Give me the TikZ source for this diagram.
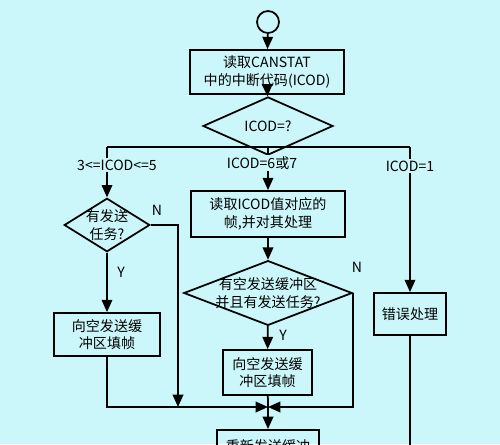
\documentclass[tikz,border=0pt]{standalone}
\usepackage{fontspec}
\setmainfont{Noto Sans CJK SC}
\usetikzlibrary{arrows.meta}
\usetikzlibrary{shapes.geometric}
\definecolor{bgcyan}{RGB}{204,247,250}

\tikzset{
  box/.style={draw, line width=1pt, align=center, inner sep=0pt},
  choice/.style={draw, diamond, line width=1pt, align=center, inner sep=0pt},
  lbl/.style={fill=bgcyan, inner sep=1pt},
  wire/.style={line width=1pt},
  flow/.style={line width=1pt, -{Triangle[length=7pt,width=6pt]}},
}

\begin{document}
\begin{tikzpicture}[x=0.02cm, y=-0.02cm, font=\fontsize{8}{10}\selectfont]
            % Fix the frame and paint the background
            \useasboundingbox (0,0) rectangle (500,444);
            \clip (0,0) rectangle (500,444);
            \fill[bgcyan] (0,0) rectangle (500,444);

            % Column and row positions (pixels of the original)
            \def\xl{107}  % left branch
            \def\xm{268}  % middle branch
            \def\xn{178}  % left N return
            \def\xs{352}  % middle N return
            \def\xr{410}  % right branch
            \def\ys{147}  % split line
            \def\yj{407}  % join line

            % Split and join points
            \coordinate (split) at (\xm, \ys);
            \coordinate (splitL) at (\xl, \ys);
            \coordinate (splitR) at (\xr, \ys);
            \coordinate (joinN) at (\xn, \yj);
            \coordinate (joinM) at (\xm, \yj);
            \coordinate (errEnd) at (\xr, 460);

            % Draw the blocks
            \node[draw, circle, line width=1pt, minimum size=0.44cm, inner sep=0pt] (start) at (\xm, 22) {};
            \node[box, minimum width=3.08cm, minimum height=0.88cm] (read) at (267, 72) {读取CANSTAT\\中的中断代码(ICOD)};
            \node[choice, minimum width=2.6cm, minimum height=0.5cm] (icod) at (\xm, 126) {ICOD=?};

            \node[choice, shape aspect=1.6, inner sep=-0.6pt] (task) at (\xl, 225) {有发送\\任务?};
            \node[box, minimum width=2.12cm, minimum height=0.86cm] (fillL) at (\xl, 334.5) {向空发送缓\\冲区填帧};

            \node[box, minimum width=3.08cm, minimum height=0.92cm] (readICOD) at (\xm, 214) {读取ICOD值对应的\\帧,并对其处理};
            \node[choice, shape aspect=2.6, inner sep=-1.3pt] (free) at (\xm, 293) {有空发送缓冲区\\并且有发送任务?};
            \node[box, minimum width=1.78cm, minimum height=0.9cm] (fillM) at (267.5, 372.5) {向空发送缓\\冲区填帧};
            \node[box, minimum width=2.04cm, inner ysep=0.2cm, anchor=north] (resend) at (\xm, 429) {重新发送缓冲};

            \node[box, minimum width=1.44cm, minimum height=0.84cm] (err) at (\xr, 314) {错误处理};

            % Draw the connectors
            \draw[flow] (start) -- (read);
            \draw[flow] (read) -- (icod);
            \draw[wire] (icod) -- (split);
            \draw[wire] (splitL) -- (splitR);
            \draw[flow] (splitL) -- (task);
            \draw[flow] (split) -- (readICOD);
            \draw[flow] (splitR) -- (err);

            \draw[flow] (task) -- (fillL);
            \draw[flow] (task.east) -| (joinN);
            \draw[flow] (fillL) |- (joinM);

            \draw[flow] (readICOD) -- (free);
            \draw[flow] (free) -- (fillM);
            \draw[flow] (free.east) |- (joinM);
            \draw[wire] (fillM) -- (joinM);
            \draw[flow] (joinM) -- (resend);

            \draw[wire] (err) -- (errEnd);

            % Draw the branch labels
            \node[lbl] (caseL) at (117, 165) {3<=ICOD<=5};
            \node[lbl] (caseM) at (262, 163) {ICOD=6或7};
            \node[lbl] (caseR) at (\xr, 166) {ICOD=1};
            \node (noL) at (157, 210) {N};
            \node (yesL) at (121, 272) {Y};
            \node (noM) at (357, 267) {N};
            \node (yesM) at (283, 335) {Y};

        \end{tikzpicture}
\end{document}
